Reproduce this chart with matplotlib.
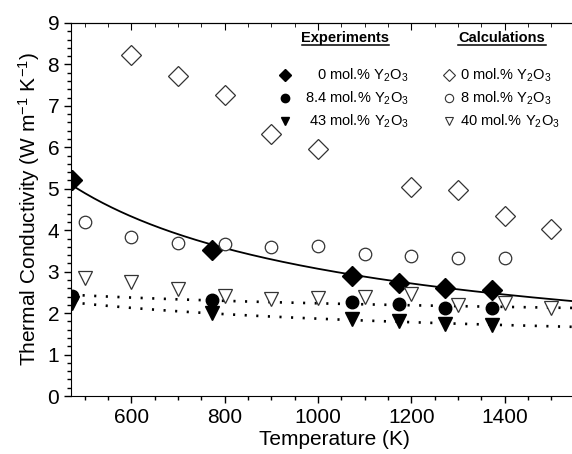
import numpy as np
import matplotlib
matplotlib.use('Agg')
import matplotlib.pyplot as plt
from matplotlib.lines import Line2D

plt.rcParams['font.family'] = ['Liberation Sans', 'DejaVu Sans']
plt.rcParams['mathtext.fontset'] = 'custom'
plt.rcParams['mathtext.rm'] = 'Liberation Sans'
plt.rcParams['mathtext.it'] = 'Liberation Sans:italic'
plt.rcParams['mathtext.bf'] = 'Liberation Sans:bold'

# Experimental data (temperature in K, conductivity in W/m/K)
T_exp = [473, 773, 1073, 1173, 1273, 1373]
k_exp_0 = [5.20, 3.53, 2.90, 2.73, 2.61, 2.56]
k_exp_84 = [2.42, 2.32, 2.27, 2.22, 2.13, 2.13]
k_exp_43 = [2.25, 2.00, 1.85, 1.80, 1.74, 1.71]

# Calculated values
T_calc = [500, 600, 700, 800, 900, 1000, 1100, 1200, 1300, 1400, 1500]
k_calc_0 = [np.nan, 8.22, 7.72, 7.26, 6.33, 5.97, np.nan, 5.04, 4.96, 4.34, 4.04]
k_calc_8 = [4.20, 3.84, 3.70, 3.67, 3.60, 3.61, 3.42, 3.38, 3.32, 3.32, np.nan]
k_calc_40 = [2.85, 2.75, 2.58, 2.41, 2.33, 2.37, 2.38, 2.47, 2.20, 2.25, 2.12]

fig = plt.figure(figsize=(5.72, 4.54), dpi=100)
x0, x1 = 471, 1600
ax = fig.add_axes([71 / 572, 58 / 454, (x1 - x0) * 0.4667 / 572, 373 / 454])

# power-law fits to the experimental data
T_fit = np.linspace(x0, x1, 300)
for k, ls, lw in [(k_exp_0, '-', 1.3), (k_exp_84, (0, (0.8, 3.6)), 1.9), (k_exp_43, (0, (0.8, 3.6)), 1.9)]:
    p = np.polyfit(np.log(T_exp), np.log(k), 1)
    ax.plot(T_fit, np.exp(np.polyval(p, np.log(T_fit))), c='k', ls=ls, lw=lw, zorder=2)

ax.plot(T_exp, k_exp_0, 'D', c='k', ms=10, zorder=3)
ax.plot(T_exp, k_exp_84, 'o', c='k', ms=9, zorder=3)
ax.plot(T_exp, k_exp_43, 'v', c='k', ms=10, zorder=3)

ax.plot(T_calc, k_calc_0, 'D', mfc='white', mec='#333333', mew=0.9, ms=10, ls='none', zorder=3)
ax.plot(T_calc, k_calc_8, 'o', mfc='white', mec='#333333', mew=0.9, ms=9, ls='none', zorder=3)
ax.plot(T_calc, k_calc_40, 'v', mfc='white', mec='#333333', mew=0.9, ms=10, ls='none', zorder=3)

ax.set_xlim(x0, x1)
ax.set_ylim(0, 9)
ax.set_xticks([600, 800, 1000, 1200, 1400])
ax.set_xticks(np.arange(500, 1600, 50), minor=True)
ax.set_yticks(np.arange(0, 10, 1))
ax.set_yticks(np.arange(0, 9.01, 0.2), minor=True)
ax.tick_params(labelsize=15, direction='out', length=5, width=1)
ax.tick_params(which='minor', direction='out', length=3, width=1)
ax.spines['right'].set_visible(False)

top = ax.secondary_xaxis('top')
top.set_xticks([600, 800, 1000, 1200, 1400])
top.set_xticks(np.arange(500, 1600, 50), minor=True)
top.tick_params(direction='in', length=5, labeltop=False)
top.tick_params(which='minor', direction='in', length=3)

ax.set_xlabel('Temperature (K)', fontsize=15, labelpad=2)
ax.set_ylabel(r'Thermal Conductivity (W m$^{-1}$ K$^{-1}$)', fontsize=15, labelpad=4)

# legend drawn by hand in figure pixel units
def fx(px):
    return px / 572


def fy(py):
    return 1 - py / 454


for label, cx, xa, xb in [('Experiments', 345, 302, 389), ('Calculations', 502, 458, 546)]:
    fig.text(fx(cx), fy(38), label, fontsize=10.5, fontweight='bold', ha='center', va='center')
    fig.add_artist(Line2D([fx(xa), fx(xb)], [fy(45), fy(45)], c='k', lw=1.1, transform=fig.transFigure))

rows = [75, 98, 121]
exp_labels = ['0 mol.% Y$_2$O$_3$', '8.4 mol.% Y$_2$O$_3$', '43 mol.% Y$_2$O$_3$']
calc_labels = ['0 mol.% Y$_2$O$_3$', '8 mol.% Y$_2$O$_3$', '40 mol.% Y$_2$O$_3$']
for ry, m, el, cl in zip(rows, ['D', 'o', 'v'], exp_labels, calc_labels):
    fig.add_artist(Line2D([fx(285)], [fy(ry)], marker=m, ms=6, c='k', ls='none', transform=fig.transFigure))
    fig.add_artist(Line2D([fx(449)], [fy(ry)], marker=m, ms=6, mfc='white', mec='#333333', mew=0.8,
                          ls='none', transform=fig.transFigure))
    fig.text(fx(409), fy(ry), el, fontsize=10.5, ha='right', va='center')
    fig.text(fx(460), fy(ry), cl, fontsize=10.5, ha='left', va='center')

fig.savefig('out.png', dpi=100)
